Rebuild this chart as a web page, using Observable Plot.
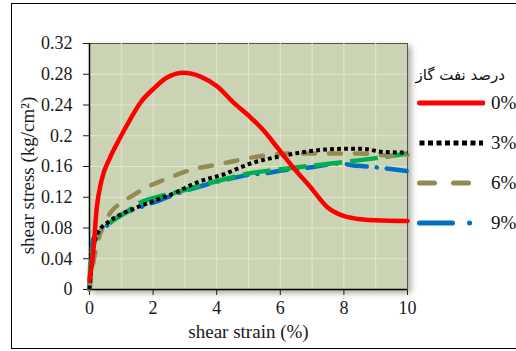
<!DOCTYPE html>
<html><head><meta charset="utf-8">
<script src="https://cdn.jsdelivr.net/npm/d3@7"></script>
<script src="https://cdn.jsdelivr.net/npm/@observablehq/plot@0.6"></script>
<style>
body{margin:0;background:#fff;}
#wrap{position:relative;width:516px;height:351px;overflow:hidden;font-family:"Liberation Serif",serif;}
#border{position:absolute;left:11px;top:3px;width:520px;height:346px;border:1.5px solid #000;box-sizing:border-box;pointer-events:none}
#chart{position:absolute;left:0;top:0}
#legend{position:absolute;left:0;top:0;width:516px;height:351px;pointer-events:none}
.ltitle{position:absolute;right:11px;top:66px;font-family:"DejaVu Sans",sans-serif;font-size:15px;direction:rtl;color:#111}
.lrow{position:absolute;left:417px;height:20px;display:flex;align-items:center}
.lrow span{font-size:19px;margin-left:6px;color:#111}
</style></head>
<body><div id="wrap"><div id="chart"></div><div id="legend"></div><div id="border"></div></div>
<script>
// ---- data ----
const legendTitle = "درصد نفت گاز";
const seriesLabels = ["0%", "3%", "6%", "9%", "12%"];
const strain0 = [0, 0.13, 0.22, 0.38, 0.64, 0.97, 1.29, 1.6, 2.01, 2.45, 2.96, 3.49, 4.02, 4.53, 5.06, 5.47, 5.9, 6.4, 6.95, 7.48, 7.9, 8.4, 9.0, 10];
const stress0 = [0.012, 0.055, 0.103, 0.142, 0.171, 0.198, 0.222, 0.243, 0.261, 0.276, 0.282, 0.277, 0.264, 0.243, 0.224, 0.207, 0.185, 0.159, 0.133, 0.107, 0.097, 0.092, 0.09, 0.089];
const strain3 = [0, 0.13, 0.28, 0.6, 1.0, 1.5, 2.0, 2.7, 3.3, 4.3, 5.0, 6.1, 7.4, 8.0, 8.6, 9.2, 10];
const stress3 = [0, 0.055, 0.075, 0.088, 0.098, 0.107, 0.115, 0.126, 0.138, 0.151, 0.163, 0.174, 0.182, 0.183, 0.183, 0.179, 0.178];
const strain6 = [0, 0.1, 0.19, 0.4, 0.66, 1.0, 1.35, 1.8, 2.3, 2.8, 3.3, 3.8, 4.3, 5.3, 6.4, 7.5, 8.5, 9.5, 10];
const stress6 = [0, 0.03, 0.05, 0.08, 0.1, 0.113, 0.122, 0.133, 0.142, 0.15, 0.157, 0.161, 0.165, 0.173, 0.177, 0.177, 0.177, 0.174, 0.175];
const strain9 = [0, 0.05, 0.12, 0.3, 0.6, 1.13, 1.6, 2.0, 2.7, 3.3, 4.3, 5.0, 5.5, 6.1, 7.0, 7.8, 8.4, 9.0, 10];
const stress9 = [0, 0.04, 0.066, 0.072, 0.085, 0.1, 0.107, 0.113, 0.124, 0.132, 0.143, 0.149, 0.151, 0.155, 0.159, 0.164, 0.161, 0.159, 0.154];
const strain12 = [0, 0.03, 0.2, 0.6, 1.13, 1.6, 2.0, 2.7, 3.3, 4.3, 5.0, 5.95, 7.6, 9.2, 10];
const stress12 = [0, 0.038, 0.066, 0.085, 0.1, 0.113, 0.119, 0.126, 0.133, 0.144, 0.151, 0.156, 0.164, 0.172, 0.177];
const xTicks = [0, 2, 4, 6, 8, 10];
const yTicks = [0, 0.04, 0.08, 0.12, 0.16, 0.2, 0.24, 0.28, 0.32];
const xGrid = [1, 2, 3, 4, 5, 6, 7, 8, 9];
const yGrid = [0.04, 0.08, 0.12, 0.16, 0.2, 0.24, 0.28];

// ---- styles ----
const styles = [
  {color: "#ff0000", dash: null, width: 4.5, cap: "round", legendDash: null, inLegend: true},
  {color: "#000000", dash: "3.8,3.2", width: 4, cap: "butt", legendDash: "5,3.5", inLegend: true},
  {color: "#948a54", dash: "12,14", width: 4.5, cap: "round", legendDash: "15,19", inLegend: true},
  {color: "#0070c0", dash: "20,10,0.1,10", width: 4.5, cap: "round", legendDash: "33,17,0.1,100", inLegend: true},
  {color: "#00b050", dash: "28,8", width: 4.5, cap: "butt", legendDash: "28,8", inLegend: false}
];
const raw = [[strain0, stress0], [strain3, stress3], [strain6, stress6], [strain9, stress9], [strain12, stress12]];
const series = raw.map(([xs, ys], k) => xs.map((x, i) => ({strain: x, stress: ys[i], k: seriesLabels[k]})));
const drawOrder = [3, 4, 2, 1, 0];

const lineMarks = drawOrder.map(k => Plot.line(series[k], {
  x: "strain", y: "stress", stroke: styles[k].color, strokeWidth: styles[k].width,
  strokeDasharray: styles[k].dash || undefined, strokeLinecap: styles[k].cap,
  strokeLinejoin: "round", curve: "monotone-x"
}));

const chart = Plot.plot({
  width: 516, height: 351,
  marginLeft: 89, marginRight: 109, marginTop: 43, marginBottom: 62,
  style: {fontFamily: "Liberation Serif, serif", fontSize: "18px", color: "#1a1a1a", background: "transparent", overflow: "visible"},
  x: {domain: [0, 10], ticks: xTicks, tickSize: 6, tickPadding: 6, label: "shear strain (%)", labelAnchor: "center", labelOffset: 48, labelArrow: "none"},
  y: {domain: [0, 0.32], ticks: yTicks, tickSize: 6, tickPadding: 11, tickFormat: d => String(+d.toFixed(2)),
      label: "shear stress (kg/cm²)", labelAnchor: "center", labelOffset: 69, labelArrow: "none"},
  marks: [
    Plot.frame({fill: "#cad4b5", stroke: "#555", strokeWidth: 1}),
    Plot.gridX(xGrid, {stroke: "#e6e3c9", strokeOpacity: 1, strokeWidth: 1}),
    Plot.gridY(yGrid, {stroke: "#e6e3c9", strokeOpacity: 1, strokeWidth: 1}),
    Plot.ruleX([0], {stroke: "#000", strokeWidth: 1.5}),
    Plot.ruleY([0], {stroke: "#000", strokeWidth: 1.5}),
    ...lineMarks
  ]
});
const fr = chart.querySelector('[aria-label="frame"]');
if (fr) fr.style.filter = "drop-shadow(3px 3px 3px rgba(60,60,40,0.45))";
const yl = chart.querySelector('[aria-label="y-axis label"]');
if (yl) { yl.setAttribute("font-size", "19px"); yl.style.fontSize = "19px";
  const tx = yl.getAttribute("transform") || ""; yl.setAttribute("transform", "translate(0,9) " + tx); }
const xl = chart.querySelector('[aria-label="x-axis label"]');
if (xl) { xl.setAttribute("font-size", "19px"); xl.style.fontSize = "19px"; }
document.getElementById("chart").appendChild(chart);

// ---- legend ----
const leg = document.getElementById("legend");
const t = document.createElement("div");
t.className = "ltitle"; t.textContent = legendTitle; leg.appendChild(t);
let row = 0;
styles.forEach((s, k) => {
  if (!s.inLegend) return;
  const r = document.createElement("div");
  r.className = "lrow";
  r.style.top = (93 + row * 40) + "px";
  const sv = d3.create("svg").attr("width", 68).attr("height", 20);
  sv.append("line").attr("x1", 2.5).attr("x2", 66).attr("y1", 10).attr("y2", 10)
    .attr("stroke", s.color).attr("stroke-width", 5).attr("stroke-linecap", s.cap)
    .attr("stroke-dasharray", s.legendDash);
  r.appendChild(sv.node());
  const sp = document.createElement("span"); sp.textContent = seriesLabels[k];
  r.appendChild(sp);
  leg.appendChild(r);
  row++;
});
</script></body></html>
